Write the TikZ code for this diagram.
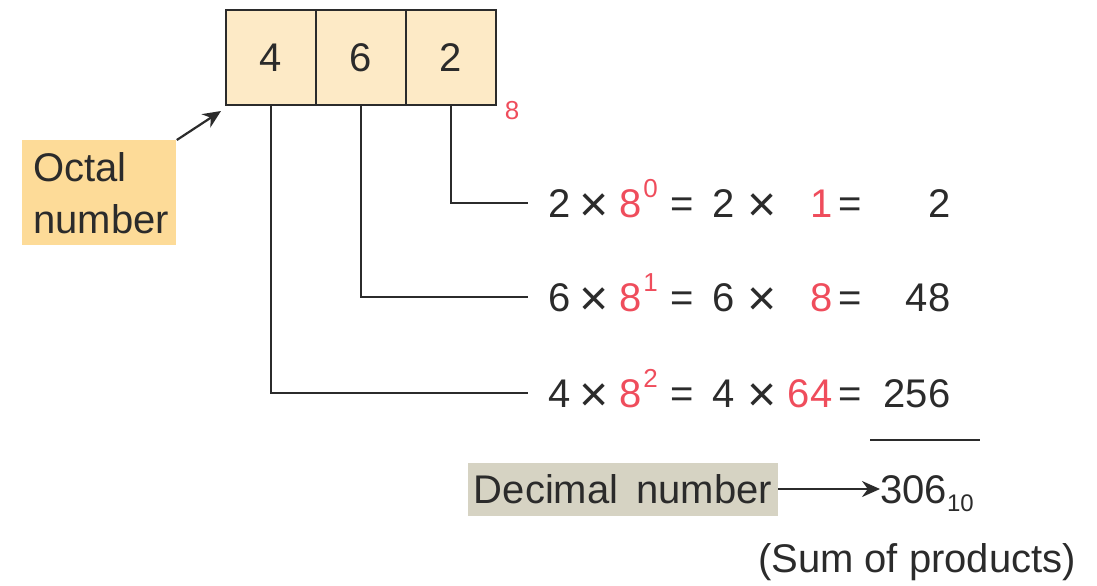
\documentclass[tikz,border=0pt]{standalone}
\usepackage{fontspec}
\setmainfont{Liberation Sans}
\usetikzlibrary{arrows.meta}
\definecolor{cellfill}{HTML}{FDEAC6}
\definecolor{octfill}{HTML}{FDDB98}
\definecolor{decfill}{HTML}{D6D3C3}
\definecolor{hot}{HTML}{EF4D5C}
\definecolor{ink}{HTML}{2B2B2B}
\newcommand{\hl}[1]{\textcolor{hot}{#1}}
\newcommand{\bigtimes}{\raisebox{-1.8pt}{\fontsize{25}{25}\selectfont ×}}
% digit x 8^power = digit x value = product
\newcommand{\prodrow}[5]{#1\hspace{4.6pt}\bigtimes\hspace{5.2pt}\hl{8}\hspace{0.8pt}\raisebox{10pt}{\fontsize{13}{13}\selectfont\hl{#2}}\hspace{6.5pt}=\hspace{9pt}#3\hspace{6.4pt}\bigtimes\makebox[28pt][r]{\hl{#4}}\hspace{3.2pt}=\makebox[44.1pt][r]{#5}}

\begin{document}
\begin{tikzpicture}[x=0.5pt,y=-0.5pt,every node/.style={text=ink,font=\fontsize{20}{26}\selectfont},
 cell/.style={draw=ink,line width=1.2pt,fill=cellfill,minimum width=45pt,minimum height=47.5pt,inner sep=0pt},
 wire/.style={ink,line width=1pt},
 arr/.style={-{Stealth[length=9pt,width=8pt]},ink,line width=1.1pt},
 prod/.style={anchor=west,inner xsep=10pt,inner ysep=0pt,text height=14.4pt,text depth=0pt}]
\useasboundingbox (0,0) rectangle (1097,585);
\node[cell] (c4) at (271,57.5) {4};
\node[cell] (c6) at (361,57.5) {6};
\node[cell] (c2) at (451,57.5) {2};
\node[text=hot,font=\fontsize{13}{13}\selectfont] (base) at (512,111) {8};
\node[fill=octfill,anchor=north west,align=left,text width=66pt,inner xsep=5.5pt,inner ysep=0pt,minimum height=52.5pt] (octal) at (22,140) {Octal\\number};
\coordinate (tip) at (221,111);
\draw[arr] (octal.north east) -- (tip);
\node[prod] (p0) at (528,203) {\prodrow{2}{0}{2}{1}{2}};
\node[prod] (p1) at (528,297) {\prodrow{6}{1}{6}{8}{48}};
\node[prod] (p2) at (528,393) {\prodrow{4}{2}{4}{64}{256}};
\draw[wire] (c2.south) |- (p0.west);
\draw[wire] (c6.south) |- (p1.west);
\draw[wire] (c4.south) |- (p2.west);
\draw[wire] (870,440) -- (980,440);
\node[fill=decfill,minimum width=155pt,minimum height=26.5pt,inner sep=0pt] (dec) at (623,489) {Decimal\hspace{9pt}number};
\node[anchor=west,inner sep=0pt,text height=14.4pt,text depth=0pt] (res) at (880,489) {306\raisebox{-4pt}{\fontsize{12}{12}\selectfont 10}};
\draw[arr] (dec) -- (res);
\node (sum) at (917,562) {(Sum of products)};
\end{tikzpicture}
\end{document}
